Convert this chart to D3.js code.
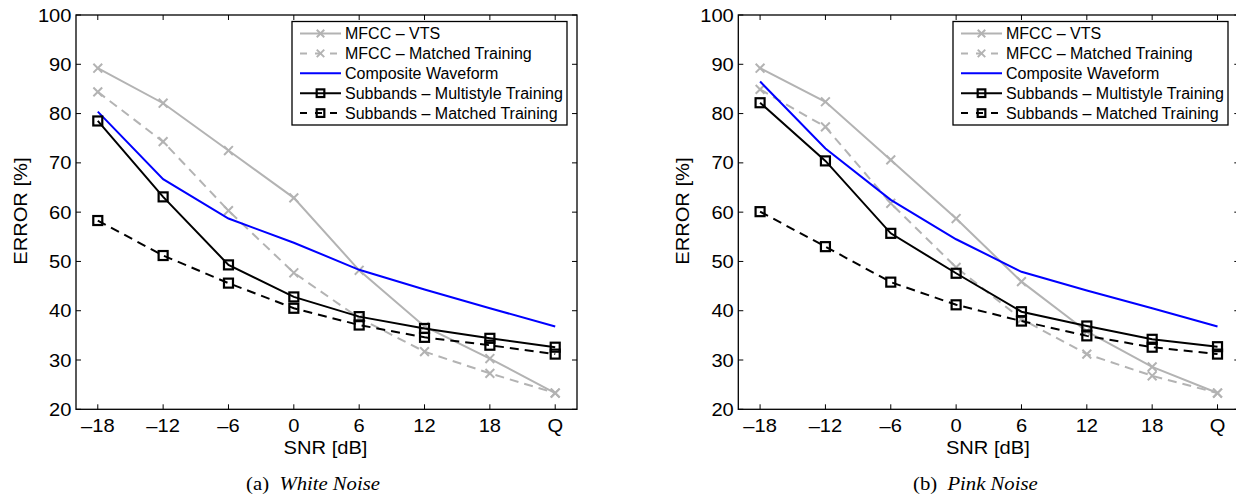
<html>
<head>
<script src="https://d3js.org/d3.v7.min.js"></script>
<style>
  body { margin: 0; background: #fff; }
  svg { font-family: "Liberation Sans", Arial, sans-serif; }
  .tick-label { font-size: 17.5px; fill: #000; }
  .legend-text { font-size: 16px; fill: #000; }
  .caption { font-family: "Liberation Serif", "Times New Roman", serif; font-size: 18px; }
</style>
</head>
<body>
<div id="chart"></div>
<script>
// categories on the x axis (SNR in dB, Q = quiet/clean)
const snrLabels = ['\u201318', '\u201312', '\u20136', '0', '6', '12', '18', 'Q'];
const yTicks = [20, 30, 40, 50, 60, 70, 80, 90, 100];

const seriesNames = [
  'MFCC \u2013 VTS',
  'MFCC \u2013 Matched Training',
  'Composite Waveform',
  'Subbands \u2013 Multistyle Training',
  'Subbands \u2013 Matched Training'
];

// White noise panel
const whiteVts       = [89.2, 82.1, 72.5, 62.9, 48.2, 36.8, 30.3, 23.3];
const whiteMfccMatch = [84.4, 74.3, 60.3, 47.7, 38.5, 31.7, 27.3, 23.3];
const whiteComposite = [80.4, 66.7, 58.7, 53.8, 48.3, 44.3, 40.5, 36.8];
const whiteSubMulti  = [78.5, 63.1, 49.3, 42.8, 38.8, 36.4, 34.4, 32.6];
const whiteSubMatch  = [58.3, 51.2, 45.6, 40.5, 37.1, 34.6, 33.0, 31.2];

// Pink noise panel
const pinkVts       = [89.2, 82.4, 70.6, 58.7, 45.9, 35.8, 28.6, 23.3];
const pinkMfccMatch = [84.9, 77.3, 61.8, 48.8, 38.3, 31.2, 26.8, 23.3];
const pinkComposite = [86.5, 72.9, 62.5, 54.5, 47.9, 44.1, 40.5, 36.8];
const pinkSubMulti  = [82.2, 70.4, 55.7, 47.6, 39.8, 36.9, 34.2, 32.7];
const pinkSubMatch  = [60.1, 53.0, 45.8, 41.2, 37.9, 34.9, 32.6, 31.2];

const styles = [
  { color: '#b3b3b3', dash: null,  marker: 'x' },
  { color: '#b3b3b3', dash: '9,6', marker: 'x' },
  { color: '#0000ff', dash: null,  marker: null },
  { color: '#000000', dash: null,  marker: 'square' },
  { color: '#000000', dash: '9,6', marker: 'square' }
];

const W = 1236, H = 497;
const svg = d3.select('#chart').append('svg')
  .attr('width', W).attr('height', H);

const plotW = 501, plotTop = 15, plotBottom = 409.3;
const sx = 1.15; // glyphs in the original are wider than Liberation Sans

const y = d3.scaleLinear().domain([20, 100]).range([plotBottom, plotTop]);

function label(g, txt, px, py, anchor, rot) {
  g.append('text').attr('class', 'tick-label')
    .attr('transform', `translate(${px},${py})${rot ? ' rotate(' + rot + ')' : ''} scale(${sx},1)`)
    .attr('text-anchor', anchor).text(txt);
}

function drawPanel(left, data, caption, legendX) {
  const x = d3.scaleLinear().domain([-1 / 3, 7 + 1 / 3]).range([left, left + plotW]);
  const g = svg.append('g');

  // frame
  g.append('rect')
    .attr('x', left).attr('y', plotTop)
    .attr('width', plotW).attr('height', plotBottom - plotTop)
    .attr('fill', 'none').attr('stroke', '#000').attr('stroke-width', 1.3);

  // ticks (inward, all four sides)
  const tl = 5;
  snrLabels.forEach((lab, i) => {
    const px = x(i);
    g.append('line').attr('x1', px).attr('x2', px).attr('y1', plotBottom).attr('y2', plotBottom - tl)
      .attr('stroke', '#000');
    g.append('line').attr('x1', px).attr('x2', px).attr('y1', plotTop).attr('y2', plotTop + tl)
      .attr('stroke', '#000');
    label(g, lab, px, plotBottom + 22.5, 'middle');
  });
  yTicks.forEach(v => {
    const py = y(v);
    g.append('line').attr('x1', left).attr('x2', left + tl).attr('y1', py).attr('y2', py)
      .attr('stroke', '#000');
    g.append('line').attr('x1', left + plotW).attr('x2', left + plotW - tl).attr('y1', py).attr('y2', py)
      .attr('stroke', '#000');
    label(g, v, left - 4.5, py + 6.5, 'end');
  });

  // axis labels
  label(g, 'SNR [dB]', left + plotW / 2 - 1, plotBottom + 44.5, 'middle');
  label(g, 'ERROR [%]', left - 49, (plotTop + plotBottom) / 2 - 1, 'middle', -90);

  // caption
  const cap = g.append('text').attr('class', 'caption')
    .attr('transform', `translate(${left + 237},490) scale(${sx},1)`)
    .attr('text-anchor', 'middle');
  cap.append('tspan').text(caption[0]);
  cap.append('tspan').attr('dx', 9).attr('font-style', 'italic').text(caption[1]);

  const line = d3.line().x((d, i) => x(i)).y(d => y(d));

  data.forEach((vals, k) => {
    const st = styles[k];
    g.append('path').datum(vals)
      .attr('d', line)
      .attr('fill', 'none')
      .attr('stroke', st.color)
      .attr('stroke-width', 2)
      .attr('stroke-dasharray', st.dash);
    vals.forEach((v, i) => drawMarker(g, st, x(i), y(v)));
  });

  // legend
  const lx = legendX, ly = 21.5, lw = 275, lh = 103.5;
  g.append('rect').attr('x', lx).attr('y', ly).attr('width', lw).attr('height', lh)
    .attr('fill', '#fff').attr('stroke', '#000').attr('stroke-width', 1.3);
  seriesNames.forEach((name, k) => {
    const st = styles[k];
    const ry = ly + 12 + k * 19.9;
    g.append('line')
      .attr('x1', lx + 8).attr('x2', lx + 49).attr('y1', ry).attr('y2', ry)
      .attr('stroke', st.color).attr('stroke-width', 2)
      .attr('stroke-dasharray', st.dash ? '7,8' : null);
    drawMarker(g, st, lx + 28.5, ry, 0.85);
    g.append('text').attr('class', 'legend-text')
      .attr('x', lx + 53).attr('y', ry + 5.5).text(name);
  });
}

function drawMarker(g, st, cx, cy, s = 1) {
  if (st.marker === 'x') {
    const r = 4.4 * s;
    g.append('path')
      .attr('d', `M${cx - r},${cy - r}L${cx + r},${cy + r}M${cx - r},${cy + r}L${cx + r},${cy - r}`)
      .attr('stroke', st.color).attr('stroke-width', 2).attr('fill', 'none');
  } else if (st.marker === 'square') {
    const r = 4.5 * s;
    g.append('rect')
      .attr('x', cx - r).attr('y', cy - r).attr('width', 2 * r).attr('height', 2 * r)
      .attr('fill', 'none').attr('stroke', st.color).attr('stroke-width', 2.2);
  }
}

drawPanel(76,
  [whiteVts, whiteMfccMatch, whiteComposite, whiteSubMulti, whiteSubMatch],
  ['(a)', 'White Noise'], 292);
drawPanel(738.3,
  [pinkVts, pinkMfccMatch, pinkComposite, pinkSubMulti, pinkSubMatch],
  ['(b)', 'Pink Noise'], 953);
</script>
</body>
</html>
